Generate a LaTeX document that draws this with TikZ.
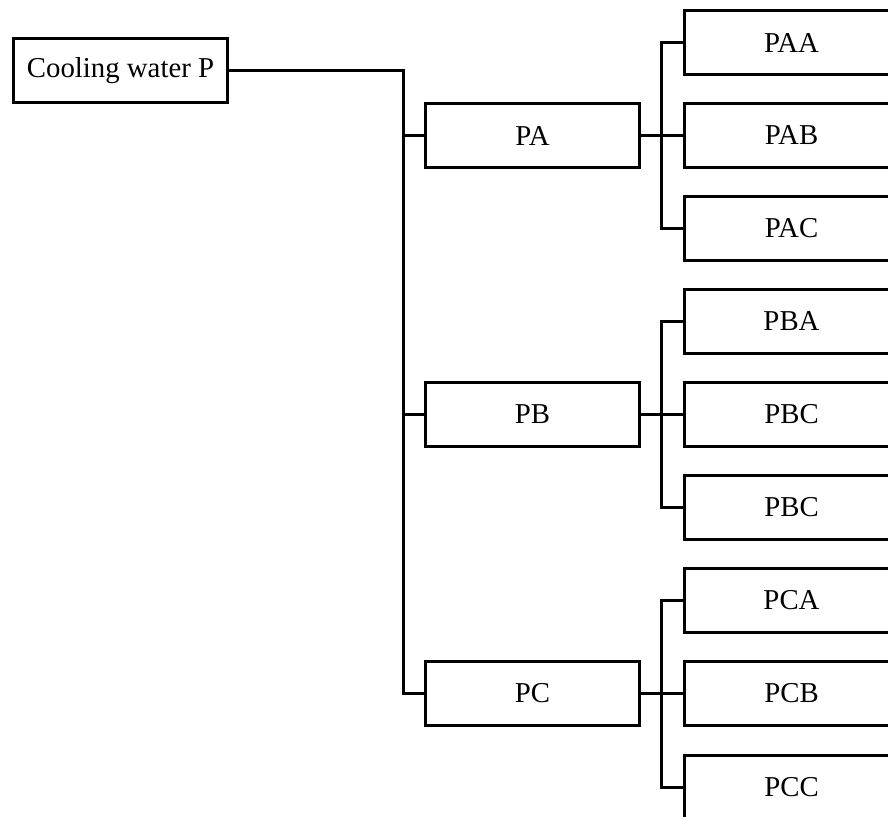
\documentclass[tikz,border=0pt]{standalone}
\usepackage{fontspec}
\setmainfont{Liberation Serif}
\begin{document}
\begin{tikzpicture}[x=1pt,y=-1pt,
  box/.style={draw=black, line width=2.8pt, minimum width=214pt, minimum height=64pt, inner sep=0pt, font=\fontsize{28.8}{34}\selectfont, anchor=center},
  conn/.style={draw=black, line width=2.8pt}]
\useasboundingbox (0,0) rectangle (888,816);
\clip (0,0) rectangle (888,816);
\node[box] (root) at (120.5,70.5) {Cooling water P};
\node[box] (PA) at (532.5,135.5) {PA};
\node[box] (PB) at (532.5,414.5) {PB};
\node[box] (PC) at (532.5,693.5) {PC};
\node[box] (PAA) at (791.5,42.5) {PAA};
\node[box] (PAB) at (791.5,135.5) {PAB};
\node[box] (PAC) at (791.5,228.5) {PAC};
\node[box] (PBA) at (791.5,321.5) {PBA};
\node[box] (PBB) at (791.5,414.5) {PBC};
\node[box] (PBC) at (791.5,507.5) {PBC};
\node[box] (PCA) at (791.5,600.5) {PCA};
\node[box] (PCB) at (791.5,693.5) {PCB};
\node[box] (PCC) at (791.5,787.5) {PCC};
\coordinate (j0) at (403.5,70.5);
\coordinate (ja) at (661.5,135.5);
\coordinate (jb) at (661.5,414.5);
\coordinate (jc) at (661.5,693.5);
\draw[conn] (root.east) -- (j0) |- (PC.west);
\draw[conn] (j0 |- PA.west) -- (PA.west);
\draw[conn] (j0 |- PB.west) -- (PB.west);
\draw[conn] (PAA.west) -| (ja) |- (PAC.west);
\draw[conn] (PA.east) -- (PAB.west);
\draw[conn] (PBA.west) -| (jb) |- (PBC.west);
\draw[conn] (PB.east) -- (PBB.west);
\draw[conn] (PCA.west) -| (jc) |- (PCC.west);
\draw[conn] (PC.east) -- (PCB.west);
\end{tikzpicture}
\end{document}
